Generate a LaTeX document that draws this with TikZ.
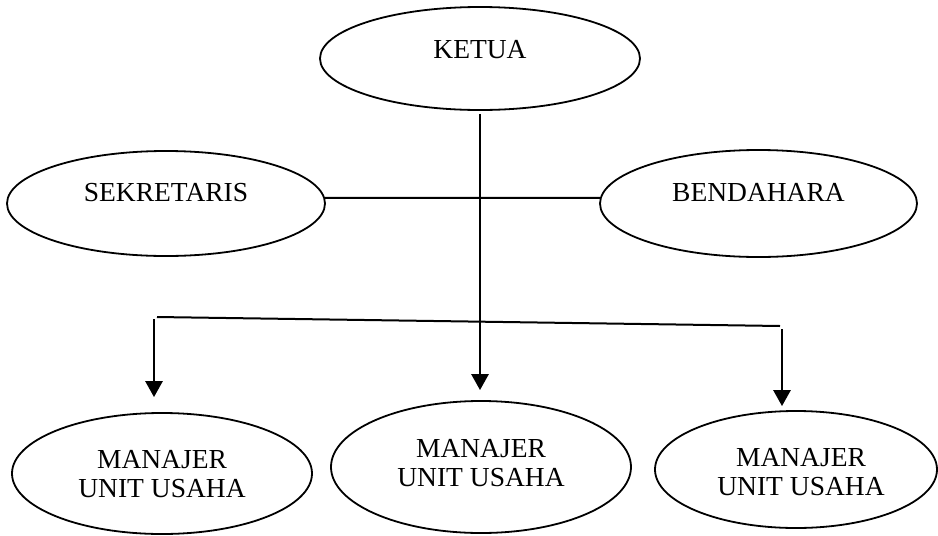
\documentclass[tikz,border=0pt]{standalone}
\usepackage{fontspec}
\setmainfont{Liberation Serif}
\usetikzlibrary{shapes.geometric,arrows.meta}
\begin{document}
\begin{tikzpicture}[x=1pt,y=-1pt,
  oval/.style={ellipse, draw, line width=1.8pt, inner sep=0pt},
  lbl/.style={font=\fontsize{27.5}{29}\selectfont, align=center, inner sep=0pt},
  link/.style={line width=2pt},
  down/.style={line width=2.8pt, -{Triangle[width=17pt,length=16pt]}},
]
\useasboundingbox (0,0) rectangle (938,536);
% nodes
\node[oval, minimum width=320pt, minimum height=103pt,
      label={[lbl,yshift=8.5pt]center:KETUA}] (ketua) at (480,58.5) {};
\node[oval, minimum width=318pt, minimum height=105pt,
      label={[lbl,yshift=11pt]center:SEKRETARIS}] (sek) at (166,203.5) {};
\node[oval, minimum width=317pt, minimum height=107pt,
      label={[lbl,yshift=11pt]center:BENDAHARA}] (bend) at (758.5,203.5) {};
\node[oval, minimum width=300pt, minimum height=121pt,
      label={[lbl,yshift=-0.5pt]center:{MANAJER\\UNIT USAHA}}] (mgr1) at (162,473.5) {};
\node[oval, minimum width=300pt, minimum height=132pt,
      label={[lbl,yshift=4pt]center:{MANAJER\\UNIT USAHA}}] (mgr2) at (481,467) {};
\node[oval, minimum width=282pt, minimum height=117pt,
      label={[lbl,yshift=-2.5pt,xshift=5pt]center:{MANAJER\\UNIT USAHA}}] (mgr3) at (796,469.5) {};
% connectors
\draw[link] (sek.2) -- (bend.178);
\draw[down, shorten <=3pt, shorten >=10pt] (ketua.south) -- (ketua.south |- mgr2.north);
\coordinate (tl) at (157,317);
\coordinate (tr) at (780,326);
\draw[link] (tl) -- (tr);
\coordinate (la) at (154,319);
\coordinate (ra) at (782,329);
\draw[down, shorten >=15pt] (la) -- (la |- mgr1.north);
\draw[down, shorten >=4pt] (ra) -- (ra |- mgr3.north);
\end{tikzpicture}
\end{document}
